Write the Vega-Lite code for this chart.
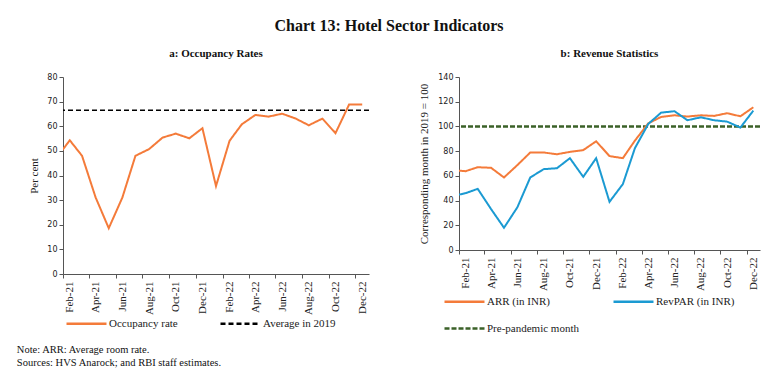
{
  "$schema": "https://vega.github.io/schema/vega-lite/v6.json",
  "padding": {"left": 16, "top": 18, "right": 10, "bottom": 5},
  "background": "white",
  "title": {"text": "Chart 13: Hotel Sector Indicators", "font": "Liberation Serif", "fontSize": 16, "fontWeight": "bold", "color": "#111", "anchor": "middle", "offset": 14},
  "datasets": {
    "occ": [
      {"date": "2021-01-01", "series": "Occupancy rate", "value": 47.0},
      {"date": "2021-02-01", "series": "Occupancy rate", "value": 54.3},
      {"date": "2021-03-01", "series": "Occupancy rate", "value": 48.0},
      {"date": "2021-04-01", "series": "Occupancy rate", "value": 31.1},
      {"date": "2021-05-01", "series": "Occupancy rate", "value": 18.6},
      {"date": "2021-06-01", "series": "Occupancy rate", "value": 31.0},
      {"date": "2021-07-01", "series": "Occupancy rate", "value": 48.0},
      {"date": "2021-08-01", "series": "Occupancy rate", "value": 50.7},
      {"date": "2021-09-01", "series": "Occupancy rate", "value": 55.4},
      {"date": "2021-10-01", "series": "Occupancy rate", "value": 57.0},
      {"date": "2021-11-01", "series": "Occupancy rate", "value": 55.1},
      {"date": "2021-12-01", "series": "Occupancy rate", "value": 59.2},
      {"date": "2022-01-01", "series": "Occupancy rate", "value": 35.7},
      {"date": "2022-02-01", "series": "Occupancy rate", "value": 54.1},
      {"date": "2022-03-01", "series": "Occupancy rate", "value": 60.8},
      {"date": "2022-04-01", "series": "Occupancy rate", "value": 64.6},
      {"date": "2022-05-01", "series": "Occupancy rate", "value": 63.9},
      {"date": "2022-06-01", "series": "Occupancy rate", "value": 65.1},
      {"date": "2022-07-01", "series": "Occupancy rate", "value": 63.2},
      {"date": "2022-08-01", "series": "Occupancy rate", "value": 60.4},
      {"date": "2022-09-01", "series": "Occupancy rate", "value": 63.1},
      {"date": "2022-10-01", "series": "Occupancy rate", "value": 57.2},
      {"date": "2022-11-01", "series": "Occupancy rate", "value": 68.8},
      {"date": "2022-12-01", "series": "Occupancy rate", "value": 68.8}
    ],
    "occref": [{"series": "Average in 2019", "value": 66.5}],
    "rev": [
      {"date": "2021-01-01", "series": "ARR (in INR)", "value": 64.6},
      {"date": "2021-02-01", "series": "ARR (in INR)", "value": 63.8},
      {"date": "2021-03-01", "series": "ARR (in INR)", "value": 67.0},
      {"date": "2021-04-01", "series": "ARR (in INR)", "value": 66.5},
      {"date": "2021-05-01", "series": "ARR (in INR)", "value": 58.7},
      {"date": "2021-06-01", "series": "ARR (in INR)", "value": 68.7},
      {"date": "2021-07-01", "series": "ARR (in INR)", "value": 78.9},
      {"date": "2021-08-01", "series": "ARR (in INR)", "value": 78.9},
      {"date": "2021-09-01", "series": "ARR (in INR)", "value": 77.5},
      {"date": "2021-10-01", "series": "ARR (in INR)", "value": 79.4},
      {"date": "2021-11-01", "series": "ARR (in INR)", "value": 80.8},
      {"date": "2021-12-01", "series": "ARR (in INR)", "value": 88.0},
      {"date": "2022-01-01", "series": "ARR (in INR)", "value": 76.0},
      {"date": "2022-02-01", "series": "ARR (in INR)", "value": 74.3},
      {"date": "2022-03-01", "series": "ARR (in INR)", "value": 88.5},
      {"date": "2022-04-01", "series": "ARR (in INR)", "value": 102.5},
      {"date": "2022-05-01", "series": "ARR (in INR)", "value": 107.7},
      {"date": "2022-06-01", "series": "ARR (in INR)", "value": 109.0},
      {"date": "2022-07-01", "series": "ARR (in INR)", "value": 108.0},
      {"date": "2022-08-01", "series": "ARR (in INR)", "value": 109.0},
      {"date": "2022-09-01", "series": "ARR (in INR)", "value": 108.5},
      {"date": "2022-10-01", "series": "ARR (in INR)", "value": 110.7},
      {"date": "2022-11-01", "series": "ARR (in INR)", "value": 108.2},
      {"date": "2022-12-01", "series": "ARR (in INR)", "value": 115.5},
      {"date": "2021-01-01", "series": "RevPAR (in INR)", "value": 43.6},
      {"date": "2021-02-01", "series": "RevPAR (in INR)", "value": 46.0},
      {"date": "2021-03-01", "series": "RevPAR (in INR)", "value": 49.5},
      {"date": "2021-04-01", "series": "RevPAR (in INR)", "value": 33.1},
      {"date": "2021-05-01", "series": "RevPAR (in INR)", "value": 18.0},
      {"date": "2021-06-01", "series": "RevPAR (in INR)", "value": 34.5},
      {"date": "2021-07-01", "series": "RevPAR (in INR)", "value": 58.7},
      {"date": "2021-08-01", "series": "RevPAR (in INR)", "value": 65.4},
      {"date": "2021-09-01", "series": "RevPAR (in INR)", "value": 66.2},
      {"date": "2021-10-01", "series": "RevPAR (in INR)", "value": 74.3},
      {"date": "2021-11-01", "series": "RevPAR (in INR)", "value": 59.2},
      {"date": "2021-12-01", "series": "RevPAR (in INR)", "value": 74.3},
      {"date": "2022-01-01", "series": "RevPAR (in INR)", "value": 39.0},
      {"date": "2022-02-01", "series": "RevPAR (in INR)", "value": 53.3},
      {"date": "2022-03-01", "series": "RevPAR (in INR)", "value": 82.4},
      {"date": "2022-04-01", "series": "RevPAR (in INR)", "value": 102.0},
      {"date": "2022-05-01", "series": "RevPAR (in INR)", "value": 111.2},
      {"date": "2022-06-01", "series": "RevPAR (in INR)", "value": 112.3},
      {"date": "2022-07-01", "series": "RevPAR (in INR)", "value": 105.0},
      {"date": "2022-08-01", "series": "RevPAR (in INR)", "value": 107.4},
      {"date": "2022-09-01", "series": "RevPAR (in INR)", "value": 105.0},
      {"date": "2022-10-01", "series": "RevPAR (in INR)", "value": 103.9},
      {"date": "2022-11-01", "series": "RevPAR (in INR)", "value": 99.1},
      {"date": "2022-12-01", "series": "RevPAR (in INR)", "value": 112.8}
    ],
    "revref": [{"series": "Pre-pandemic month", "value": 100}]
  },
  "vconcat": [
    {
      "title": {
        "text": ["Note: ARR: Average room rate.", "Sources: HVS Anarock; and RBI staff estimates."],
        "orient": "bottom", "anchor": "start", "font": "Liberation Serif", "fontSize": 10.5, "fontWeight": "normal",
        "lineHeight": 13, "color": "#111", "offset": 11, "dx": -12
      },
      "spacing": 48,
      "resolve": {
        "scale": {"color": "independent", "strokeDash": "independent"},
        "legend": {"color": "independent", "strokeDash": "independent"}
      },
      "hconcat": [
        {
          "width": 306,
          "height": 197,
          "title": {"text": "a: Occupancy Rates", "font": "Liberation Serif", "fontSize": 11, "fontWeight": "bold", "color": "#111", "offset": 14},
          "encoding": {
            "y": {
              "field": "value", "type": "quantitative",
              "scale": {"domain": [0, 80], "nice": false},
              "axis": {"title": "Per cent", "values": [0, 10, 20, 30, 40, 50, 60, 70, 80], "titleFont": "Liberation Serif", "titleFontSize": 11, "titleFontWeight": "normal", "titlePadding": 7}
            },
            "color": {
              "field": "series", "type": "nominal",
              "scale": {"domain": ["Occupancy rate", "Average in 2019"], "range": ["#F47B3A", "#000000"]},
              "legend": {"orient": "none", "legendX": 2, "legendY": 225, "direction": "horizontal", "columns": 2, "columnPadding": 37, "title": null}
            },
            "strokeDash": {
              "field": "series", "type": "nominal",
              "scale": {"domain": ["Occupancy rate", "Average in 2019"], "range": [[1, 0], [5, 3]]},
              "legend": {"orient": "none", "legendX": 2, "legendY": 225, "direction": "horizontal", "columns": 2, "columnPadding": 37, "title": null}
            }
          },
          "layer": [
            {
              "data": {"name": "occref"},
              "mark": {"type": "rule", "strokeWidth": 1.5}
            },
            {
              "data": {"name": "occ"},
              "mark": {"type": "line", "strokeWidth": 2, "clip": true},
              "encoding": {
                "x": {
                  "field": "date", "type": "temporal",
                  "scale": {"type": "utc", "domain": [{"year": 2021, "month": 1, "date": 16, "hours": 12, "utc": true}, {"year": 2022, "month": 12, "date": 16, "hours": 12, "utc": true}]},
                  "axis": {
                    "title": null, "format": "%b-%y", "labelAngle": -90, "tickOffset": -6.8, "labelOffset": 6.8,
                    "values": [
                      {"year": 2021, "month": 2, "date": 1, "utc": true}, {"year": 2021, "month": 4, "date": 1, "utc": true},
                      {"year": 2021, "month": 6, "date": 1, "utc": true}, {"year": 2021, "month": 8, "date": 1, "utc": true},
                      {"year": 2021, "month": 10, "date": 1, "utc": true}, {"year": 2021, "month": 12, "date": 1, "utc": true},
                      {"year": 2022, "month": 2, "date": 1, "utc": true}, {"year": 2022, "month": 4, "date": 1, "utc": true},
                      {"year": 2022, "month": 6, "date": 1, "utc": true}, {"year": 2022, "month": 8, "date": 1, "utc": true},
                      {"year": 2022, "month": 10, "date": 1, "utc": true}, {"year": 2022, "month": 12, "date": 1, "utc": true}
                    ],
                    "labelFont": "Liberation Serif", "labelFontSize": 11, "labelPadding": 3
                  }
                }
              }
            }
          ]
        },
        {
          "width": 301,
          "height": 173,
          "title": {"text": "b: Revenue Statistics", "font": "Liberation Serif", "fontSize": 11, "fontWeight": "bold", "color": "#111", "offset": 14},
          "encoding": {
            "y": {
              "field": "value", "type": "quantitative",
              "scale": {"domain": [0, 140], "nice": false},
              "axis": {"title": "Corresponding month in 2019 = 100", "values": [0, 20, 40, 60, 80, 100, 120, 140], "titleFont": "Liberation Serif", "titleFontSize": 11, "titleFontWeight": "normal", "titlePadding": 8}
            },
            "color": {
              "field": "series", "type": "nominal",
              "scale": {"domain": ["ARR (in INR)", "RevPAR (in INR)", "Pre-pandemic month"], "range": ["#F47B3A", "#1B9AD2", "#3B6128"]},
              "legend": {"orient": "none", "legendX": -16, "legendY": 203, "direction": "horizontal", "columns": 2, "columnPadding": 29, "rowPadding": -30, "gridAlign": "all", "title": null}
            },
            "strokeDash": {
              "field": "series", "type": "nominal",
              "scale": {"domain": ["ARR (in INR)", "RevPAR (in INR)", "Pre-pandemic month"], "range": [[1, 0], [1, 0], [5, 2]]},
              "legend": {"orient": "none", "legendX": -16, "legendY": 203, "direction": "horizontal", "columns": 2, "columnPadding": 29, "rowPadding": -30, "gridAlign": "all", "title": null}
            }
          },
          "layer": [
            {
              "data": {"name": "revref"},
              "mark": {"type": "rule", "strokeWidth": 2.5}
            },
            {
              "data": {"name": "rev"},
              "mark": {"type": "line", "strokeWidth": 2, "clip": true},
              "encoding": {
                "x": {
                  "field": "date", "type": "temporal",
                  "scale": {"type": "utc", "domain": [{"year": 2021, "month": 1, "date": 16, "hours": 12, "utc": true}, {"year": 2022, "month": 12, "date": 16, "hours": 12, "utc": true}]},
                  "axis": {
                    "title": null, "format": "%b-%y", "labelAngle": -90, "tickOffset": -6.7, "labelOffset": 6.7,
                    "values": [
                      {"year": 2021, "month": 2, "date": 1, "utc": true}, {"year": 2021, "month": 4, "date": 1, "utc": true},
                      {"year": 2021, "month": 6, "date": 1, "utc": true}, {"year": 2021, "month": 8, "date": 1, "utc": true},
                      {"year": 2021, "month": 10, "date": 1, "utc": true}, {"year": 2021, "month": 12, "date": 1, "utc": true},
                      {"year": 2022, "month": 2, "date": 1, "utc": true}, {"year": 2022, "month": 4, "date": 1, "utc": true},
                      {"year": 2022, "month": 6, "date": 1, "utc": true}, {"year": 2022, "month": 8, "date": 1, "utc": true},
                      {"year": 2022, "month": 10, "date": 1, "utc": true}, {"year": 2022, "month": 12, "date": 1, "utc": true}
                    ],
                    "labelFont": "Liberation Serif", "labelFontSize": 11, "labelPadding": 3
                  }
                }
              }
            }
          ]
        }
      ]
    }
  ],
  "config": {
    "view": {"stroke": null},
    "font": "Liberation Serif",
    "axis": {
      "grid": false, "domainColor": "#555", "tickColor": "#555", "tickSize": 4, "domainWidth": 1,
      "labelFont": "DejaVu Sans", "labelFontSize": 8, "labelColor": "#222", "titleColor": "#222"
    },
    "legend": {
      "symbolType": "stroke", "symbolSize": 1600, "symbolStrokeWidth": 2.5, "labelFont": "Liberation Serif",
      "labelFontSize": 11, "labelColor": "#222", "labelOffset": 1, "rowPadding": 4
    }
  }
}
